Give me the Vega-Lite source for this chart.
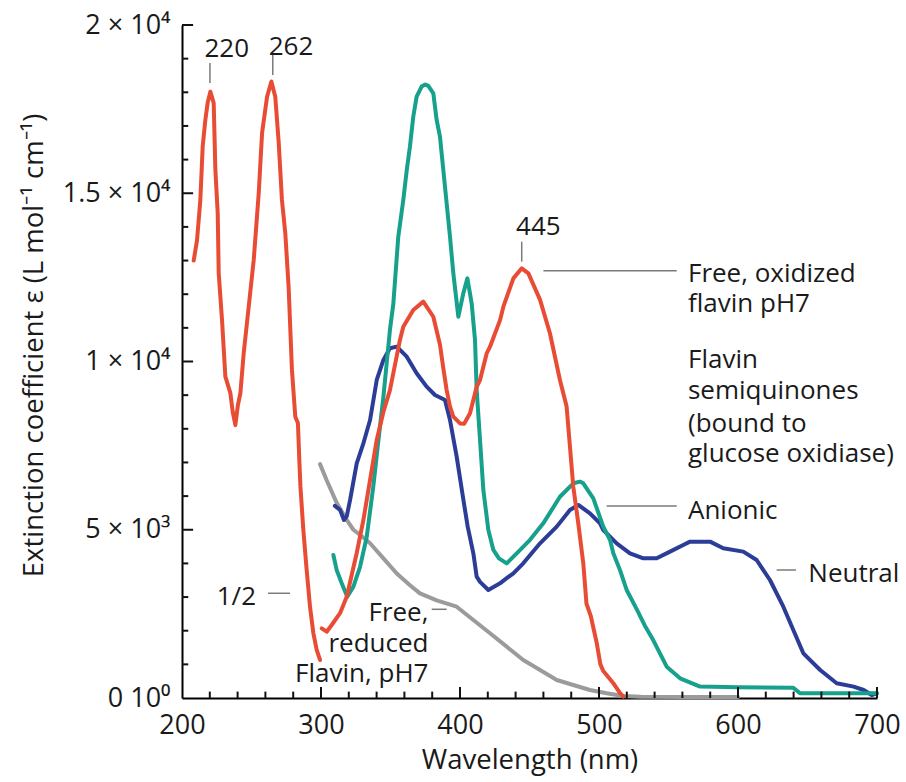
{
  "$schema": "https://vega.github.io/schema/vega-lite/v6.json",
  "width": 695,
  "height": 673,
  "autosize": {"type": "none"},
  "padding": {"left": 182, "top": 25, "right": 29, "bottom": 84},
  "background": "white",
  "config": {
    "view": {"stroke": null},
    "font": "Open Sans",
    "text": {"font": "Open Sans"}
  },
  "datasets": {
    "curves": [
      {"series":"reduced","segment":"g","nm":299.3,"value":6950},{"series":"reduced","segment":"g","nm":304,"value":6480},{"series":"reduced","segment":"g","nm":311.3,"value":5800},{"series":"reduced","segment":"g","nm":318.5,"value":5290},{"series":"reduced","segment":"g","nm":323.3,"value":5000},{"series":"reduced","segment":"g","nm":328.1,"value":4850},{"series":"reduced","segment":"g","nm":335.3,"value":4600},{"series":"reduced","segment":"g","nm":344.9,"value":4150},{"series":"reduced","segment":"g","nm":354.5,"value":3700},{"series":"reduced","segment":"g","nm":364,"value":3350},{"series":"reduced","segment":"g","nm":371.2,"value":3110},{"series":"reduced","segment":"g","nm":383.2,"value":2900},{"series":"reduced","segment":"g","nm":397.6,"value":2713},{"series":"reduced","segment":"g","nm":409.6,"value":2318},{"series":"reduced","segment":"g","nm":421.6,"value":1923},{"series":"reduced","segment":"g","nm":433.6,"value":1525},{"series":"reduced","segment":"g","nm":445.5,"value":1129},{"series":"reduced","segment":"g","nm":457.6,"value":832},{"series":"reduced","segment":"g","nm":469.6,"value":535},{"series":"reduced","segment":"g","nm":481.5,"value":386},{"series":"reduced","segment":"g","nm":493.5,"value":238},{"series":"reduced","segment":"g","nm":505.5,"value":139},{"series":"reduced","segment":"g","nm":517.5,"value":59},{"series":"reduced","segment":"g","nm":530,"value":40},{"series":"reduced","segment":"g","nm":560,"value":30},{"series":"reduced","segment":"g","nm":600,"value":30},
      {"series":"neutral","segment":"b","nm":310,"value":5710},{"series":"neutral","segment":"b","nm":313.7,"value":5590},{"series":"neutral","segment":"b","nm":316.5,"value":5290},{"series":"neutral","segment":"b","nm":318.5,"value":5400},{"series":"neutral","segment":"b","nm":320.9,"value":5880},{"series":"neutral","segment":"b","nm":325.7,"value":6975},{"series":"neutral","segment":"b","nm":328.1,"value":7270},{"series":"neutral","segment":"b","nm":330.5,"value":7570},{"series":"neutral","segment":"b","nm":335.3,"value":8262},{"series":"neutral","segment":"b","nm":340.1,"value":9451},{"series":"neutral","segment":"b","nm":344.9,"value":10045},{"series":"neutral","segment":"b","nm":349.6,"value":10393},{"series":"neutral","segment":"b","nm":354.5,"value":10441},{"series":"neutral","segment":"b","nm":361.7,"value":10144},{"series":"neutral","segment":"b","nm":368.8,"value":9650},{"series":"neutral","segment":"b","nm":376,"value":9252},{"series":"neutral","segment":"b","nm":382,"value":9005},{"series":"neutral","segment":"b","nm":389.2,"value":8857},{"series":"neutral","segment":"b","nm":392.8,"value":8262},{"series":"neutral","segment":"b","nm":397.6,"value":7172},{"series":"neutral","segment":"b","nm":402.4,"value":5900},{"series":"neutral","segment":"b","nm":405.5,"value":5100},{"series":"neutral","segment":"b","nm":409.6,"value":4300},{"series":"neutral","segment":"b","nm":412,"value":3605},{"series":"neutral","segment":"b","nm":414.4,"value":3450},{"series":"neutral","segment":"b","nm":420.4,"value":3210},{"series":"neutral","segment":"b","nm":428.8,"value":3408},{"series":"neutral","segment":"b","nm":433.6,"value":3560},{"series":"neutral","segment":"b","nm":438.4,"value":3705},{"series":"neutral","segment":"b","nm":445.5,"value":4003},{"series":"neutral","segment":"b","nm":457.6,"value":4597},{"series":"neutral","segment":"b","nm":469.6,"value":5093},{"series":"neutral","segment":"b","nm":479.1,"value":5587},{"series":"neutral","segment":"b","nm":485.1,"value":5736},{"series":"neutral","segment":"b","nm":493.5,"value":5489},{"series":"neutral","segment":"b","nm":500.7,"value":5192},{"series":"neutral","segment":"b","nm":503.1,"value":4993},{"series":"neutral","segment":"b","nm":512.7,"value":4597},{"series":"neutral","segment":"b","nm":522.3,"value":4300},{"series":"neutral","segment":"b","nm":531.9,"value":4151},{"series":"neutral","segment":"b","nm":541.5,"value":4151},{"series":"neutral","segment":"b","nm":551.1,"value":4350},{"series":"neutral","segment":"b","nm":560.6,"value":4547},{"series":"neutral","segment":"b","nm":565.5,"value":4646},{"series":"neutral","segment":"b","nm":579.9,"value":4646},{"series":"neutral","segment":"b","nm":589.4,"value":4449},{"series":"neutral","segment":"b","nm":603.8,"value":4350},{"series":"neutral","segment":"b","nm":613.4,"value":4101},{"series":"neutral","segment":"b","nm":623,"value":3507},{"series":"neutral","segment":"b","nm":632.6,"value":2713},{"series":"neutral","segment":"b","nm":639.8,"value":2021},{"series":"neutral","segment":"b","nm":647,"value":1328},{"series":"neutral","segment":"b","nm":659.1,"value":832},{"series":"neutral","segment":"b","nm":671,"value":437},{"series":"neutral","segment":"b","nm":683.2,"value":337},{"series":"neutral","segment":"b","nm":690.4,"value":238},{"series":"neutral","segment":"b","nm":696.2,"value":89},{"series":"neutral","segment":"b","nm":699.8,"value":139},
      {"series":"anionic","segment":"t","nm":308.9,"value":4250},{"series":"anionic","segment":"t","nm":311.3,"value":3800},{"series":"anionic","segment":"t","nm":314.9,"value":3410},{"series":"anionic","segment":"t","nm":318.9,"value":3010},{"series":"anionic","segment":"t","nm":323.3,"value":3310},{"series":"anionic","segment":"t","nm":328.1,"value":3900},{"series":"anionic","segment":"t","nm":332.9,"value":4790},{"series":"anionic","segment":"t","nm":337.6,"value":6280},{"series":"anionic","segment":"t","nm":341,"value":7550},{"series":"anionic","segment":"t","nm":344.9,"value":8950},{"series":"anionic","segment":"t","nm":349.6,"value":10940},{"series":"anionic","segment":"t","nm":352,"value":11700},{"series":"anionic","segment":"t","nm":355.6,"value":13710},{"series":"anionic","segment":"t","nm":359.2,"value":14800},{"series":"anionic","segment":"t","nm":361.7,"value":15690},{"series":"anionic","segment":"t","nm":364,"value":16390},{"series":"anionic","segment":"t","nm":366.4,"value":17280},{"series":"anionic","segment":"t","nm":368.8,"value":17870},{"series":"anionic","segment":"t","nm":372.4,"value":18170},{"series":"anionic","segment":"t","nm":375,"value":18230},{"series":"anionic","segment":"t","nm":377.2,"value":18190},{"series":"anionic","segment":"t","nm":380.8,"value":17970},{"series":"anionic","segment":"t","nm":383.2,"value":17180},{"series":"anionic","segment":"t","nm":385.6,"value":16680},{"series":"anionic","segment":"t","nm":388,"value":15690},{"series":"anionic","segment":"t","nm":390.4,"value":14700},{"series":"anionic","segment":"t","nm":392.8,"value":13710},{"series":"anionic","segment":"t","nm":395.2,"value":12620},{"series":"anionic","segment":"t","nm":398.8,"value":11330},{"series":"anionic","segment":"t","nm":402.4,"value":12030},{"series":"anionic","segment":"t","nm":405.3,"value":12470},{"series":"anionic","segment":"t","nm":408.4,"value":11730},{"series":"anionic","segment":"t","nm":410.8,"value":10640},{"series":"anionic","segment":"t","nm":412,"value":9150},{"series":"anionic","segment":"t","nm":414.4,"value":7670},{"series":"anionic","segment":"t","nm":416.8,"value":6180},{"series":"anionic","segment":"t","nm":420.4,"value":4990},{"series":"anionic","segment":"t","nm":424,"value":4400},{"series":"anionic","segment":"t","nm":428,"value":4150},{"series":"anionic","segment":"t","nm":433.6,"value":4000},{"series":"anionic","segment":"t","nm":440.8,"value":4300},{"series":"anionic","segment":"t","nm":450.4,"value":4700},{"series":"anionic","segment":"t","nm":459.9,"value":5190},{"series":"anionic","segment":"t","nm":471.9,"value":5980},{"series":"anionic","segment":"t","nm":481.5,"value":6380},{"series":"anionic","segment":"t","nm":486.3,"value":6430},{"series":"anionic","segment":"t","nm":488.7,"value":6380},{"series":"anionic","segment":"t","nm":495.9,"value":5930},{"series":"anionic","segment":"t","nm":503.1,"value":5090},{"series":"anionic","segment":"t","nm":507.9,"value":4700},{"series":"anionic","segment":"t","nm":510.3,"value":4300},{"series":"anionic","segment":"t","nm":515.1,"value":3800},{"series":"anionic","segment":"t","nm":519.9,"value":3210},{"series":"anionic","segment":"t","nm":527,"value":2650},{"series":"anionic","segment":"t","nm":533,"value":2150},{"series":"anionic","segment":"t","nm":539,"value":1720},{"series":"anionic","segment":"t","nm":548.7,"value":930},{"series":"anionic","segment":"t","nm":558.3,"value":585},{"series":"anionic","segment":"t","nm":572.7,"value":340},{"series":"anionic","segment":"t","nm":600,"value":320},{"series":"anionic","segment":"t","nm":639.8,"value":307},{"series":"anionic","segment":"t","nm":644.6,"value":140},{"series":"anionic","segment":"t","nm":697,"value":140},{"series":"anionic","segment":"t","nm":700,"value":140},
      {"series":"oxidized","segment":"r1","nm":208.4,"value":13000},{"series":"oxidized","segment":"r1","nm":210.8,"value":13600},{"series":"oxidized","segment":"r1","nm":213.2,"value":14800},{"series":"oxidized","segment":"r1","nm":214.9,"value":16400},{"series":"oxidized","segment":"r1","nm":216.8,"value":17180},{"series":"oxidized","segment":"r1","nm":218.5,"value":17700},{"series":"oxidized","segment":"r1","nm":220.4,"value":18020},{"series":"oxidized","segment":"r1","nm":222.8,"value":17680},{"series":"oxidized","segment":"r1","nm":224,"value":15700},{"series":"oxidized","segment":"r1","nm":225.7,"value":14400},{"series":"oxidized","segment":"r1","nm":226.4,"value":12630},{"series":"oxidized","segment":"r1","nm":228.8,"value":11230},{"series":"oxidized","segment":"r1","nm":231.2,"value":9550},{"series":"oxidized","segment":"r1","nm":234.8,"value":9060},{"series":"oxidized","segment":"r1","nm":236.5,"value":8500},{"series":"oxidized","segment":"r1","nm":238.4,"value":8110},{"series":"oxidized","segment":"r1","nm":240.2,"value":8700},{"series":"oxidized","segment":"r1","nm":242,"value":9060},{"series":"oxidized","segment":"r1","nm":244.4,"value":10250},{"series":"oxidized","segment":"r1","nm":248,"value":11630},{"series":"oxidized","segment":"r1","nm":251.6,"value":13020},{"series":"oxidized","segment":"r1","nm":255.2,"value":15000},{"series":"oxidized","segment":"r1","nm":257.6,"value":16790},{"series":"oxidized","segment":"r1","nm":261.2,"value":17870},{"series":"oxidized","segment":"r1","nm":264.3,"value":18320},{"series":"oxidized","segment":"r1","nm":267.1,"value":17870},{"series":"oxidized","segment":"r1","nm":269.6,"value":16490},{"series":"oxidized","segment":"r1","nm":271.9,"value":14800},{"series":"oxidized","segment":"r1","nm":274.3,"value":13820},{"series":"oxidized","segment":"r1","nm":276.7,"value":12220},{"series":"oxidized","segment":"r1","nm":279.1,"value":9750},{"series":"oxidized","segment":"r1","nm":281.5,"value":8360},{"series":"oxidized","segment":"r1","nm":283.4,"value":8170},{"series":"oxidized","segment":"r1","nm":284.4,"value":7070},{"series":"oxidized","segment":"r1","nm":285.2,"value":6280},{"series":"oxidized","segment":"r1","nm":287.3,"value":4990},{"series":"oxidized","segment":"r1","nm":289.7,"value":3800},{"series":"oxidized","segment":"r1","nm":292.1,"value":2710},{"series":"oxidized","segment":"r1","nm":294.5,"value":1930},{"series":"oxidized","segment":"r1","nm":296.9,"value":1430},{"series":"oxidized","segment":"r1","nm":299.3,"value":1130},
      {"series":"oxidized","segment":"r2","nm":300.5,"value":2070},{"series":"oxidized","segment":"r2","nm":304.1,"value":1970},{"series":"oxidized","segment":"r2","nm":307.7,"value":2170},{"series":"oxidized","segment":"r2","nm":313.7,"value":2520},{"series":"oxidized","segment":"r2","nm":318.5,"value":3010},{"series":"oxidized","segment":"r2","nm":325.7,"value":4310},{"series":"oxidized","segment":"r2","nm":330.5,"value":5290},{"series":"oxidized","segment":"r2","nm":335.3,"value":6480},{"series":"oxidized","segment":"r2","nm":340.1,"value":7670},{"series":"oxidized","segment":"r2","nm":344.9,"value":8500},{"series":"oxidized","segment":"r2","nm":349.6,"value":9150},{"series":"oxidized","segment":"r2","nm":356.8,"value":10640},{"series":"oxidized","segment":"r2","nm":359.2,"value":11035},{"series":"oxidized","segment":"r2","nm":366.4,"value":11530},{"series":"oxidized","segment":"r2","nm":373.6,"value":11780},{"series":"oxidized","segment":"r2","nm":380.8,"value":11330},{"series":"oxidized","segment":"r2","nm":385.6,"value":10500},{"series":"oxidized","segment":"r2","nm":388,"value":9800},{"series":"oxidized","segment":"r2","nm":390.4,"value":9150},{"series":"oxidized","segment":"r2","nm":392.8,"value":8660},{"series":"oxidized","segment":"r2","nm":395.2,"value":8360},{"series":"oxidized","segment":"r2","nm":400,"value":8160},{"series":"oxidized","segment":"r2","nm":403,"value":8150},{"series":"oxidized","segment":"r2","nm":407.2,"value":8460},{"series":"oxidized","segment":"r2","nm":412,"value":9250},{"series":"oxidized","segment":"r2","nm":414.4,"value":9450},{"series":"oxidized","segment":"r2","nm":419.2,"value":10240},{"series":"oxidized","segment":"r2","nm":421.6,"value":10440},{"series":"oxidized","segment":"r2","nm":428.8,"value":11230},{"series":"oxidized","segment":"r2","nm":431.2,"value":11630},{"series":"oxidized","segment":"r2","nm":438.4,"value":12470},{"series":"oxidized","segment":"r2","nm":444.4,"value":12770},{"series":"oxidized","segment":"r2","nm":449.2,"value":12620},{"series":"oxidized","segment":"r2","nm":457.6,"value":11830},{"series":"oxidized","segment":"r2","nm":464.7,"value":10840},{"series":"oxidized","segment":"r2","nm":471.9,"value":9450},{"series":"oxidized","segment":"r2","nm":476.7,"value":8660},{"series":"oxidized","segment":"r2","nm":479.1,"value":7470},{"series":"oxidized","segment":"r2","nm":481.5,"value":6280},{"series":"oxidized","segment":"r2","nm":485.1,"value":5190},{"series":"oxidized","segment":"r2","nm":488.7,"value":4000},{"series":"oxidized","segment":"r2","nm":491,"value":2800},{"series":"oxidized","segment":"r2","nm":494,"value":2450},{"series":"oxidized","segment":"r2","nm":498.3,"value":1650},{"series":"oxidized","segment":"r2","nm":501,"value":1000},{"series":"oxidized","segment":"r2","nm":503.1,"value":800},{"series":"oxidized","segment":"r2","nm":510.3,"value":440},{"series":"oxidized","segment":"r2","nm":515,"value":150},{"series":"oxidized","segment":"r2","nm":517.5,"value":40}
    ],
    "leaders": [
      {"nm":220.1,"value":18873,"nm2":220.1,"value2":18278},
      {"nm":265.3,"value":19110,"nm2":265.3,"value2":18515},
      {"nm":444.4,"value":13561,"nm2":444.4,"value2":12967},
      {"nm":460,"value":12700,"nm2":555.9,"value2":12700},
      {"nm":505.5,"value":5706,"nm2":555.9,"value2":5706},
      {"nm":627.8,"value":3804,"nm2":641.7,"value2":3804},
      {"nm":261.9,"value":3112,"nm2":277.7,"value2":3112},
      {"nm":379.6,"value":2636,"nm2":390.4,"value2":2636}
    ],
    "labels": [
      {"pos":"center","nm":232.2,"value":19051,"text":"220"},
      {"pos":"center","nm":278.4,"value":19110,"text":"262"},
      {"pos":"center","nm":456.4,"value":13760,"text":"445"},
      {"pos":"left","nm":564,"value":12373,"text":"Free, oxidized"},
      {"pos":"left","nm":564,"value":11481,"text":"flavin pH7"},
      {"pos":"left","nm":564,"value":9799,"text":"Flavin"},
      {"pos":"left","nm":564,"value":8877,"text":"semiquinones"},
      {"pos":"left","nm":564,"value":7914,"text":"(bound to"},
      {"pos":"left","nm":564,"value":7023,"text":"glucose oxidiase)"},
      {"pos":"left","nm":564,"value":5332,"text":"Anionic"},
      {"pos":"left","nm":650.6,"value":3457,"text":"Neutral"},
      {"pos":"left","nm":225,"value":2764,"text":"1/2"},
      {"pos":"right","nm":377.3,"value":2297,"text":"Free,"},
      {"pos":"right","nm":377.3,"value":1376,"text":"reduced"},
      {"pos":"right","nm":377.3,"value":484,"text":"Flavin, pH7"}
    ],
    "xticks": [
      {"nm":220,"kind":"minor"},{"nm":240,"kind":"minor"},{"nm":260,"kind":"minor"},{"nm":280,"kind":"minor"},
      {"nm":300,"kind":"major"},{"nm":320,"kind":"minor"},{"nm":340,"kind":"minor"},{"nm":360,"kind":"minor"},{"nm":380,"kind":"minor"},
      {"nm":400,"kind":"major"},{"nm":420,"kind":"minor"},{"nm":440,"kind":"minor"},{"nm":460,"kind":"minor"},{"nm":480,"kind":"minor"},
      {"nm":500,"kind":"major"},{"nm":520,"kind":"minor"},{"nm":540,"kind":"minor"},{"nm":560,"kind":"minor"},{"nm":580,"kind":"minor"},
      {"nm":600,"kind":"major"},{"nm":620,"kind":"minor"},{"nm":640,"kind":"minor"},{"nm":660,"kind":"minor"},{"nm":680,"kind":"minor"},
      {"nm":700,"kind":"major"}
    ],
    "yticks": [
      {"value":1000,"kind":"minor"},{"value":2000,"kind":"minor"},{"value":3000,"kind":"minor"},{"value":4000,"kind":"minor"},
      {"value":5000,"kind":"major"},{"value":6000,"kind":"minor"},{"value":7000,"kind":"minor"},{"value":8000,"kind":"minor"},{"value":9000,"kind":"minor"},
      {"value":10000,"kind":"major"},{"value":11000,"kind":"minor"},{"value":12000,"kind":"minor"},{"value":13000,"kind":"minor"},{"value":14000,"kind":"minor"},
      {"value":15000,"kind":"major"},{"value":16000,"kind":"minor"},{"value":17000,"kind":"minor"},{"value":18000,"kind":"minor"},{"value":19000,"kind":"minor"},
      {"value":20000,"kind":"major"}
    ]
  },
  "layer": [
    {
      "data": {"name": "curves"},
      "mark": {"type": "line", "strokeWidth": 4, "strokeJoin": "round", "strokeCap": "round"},
      "encoding": {
        "x": {
          "field": "nm", "type": "quantitative",
          "scale": {"domain": [200, 700], "nice": false, "zero": false},
          "axis": {
            "orient": "bottom",
            "title": "Wavelength (nm)",
            "values": [200, 300, 400, 500, 600, 700],
            "format": "d",
            "grid": false, "ticks": false,
            "domainColor": "#000000", "domainWidth": 2,
            "labelFontSize": 27, "labelColor": "#1a1a1a", "labelFont": "Open Sans",
            "labelBaseline": "alphabetic", "labelPadding": 35,
            "labelOverlap": false, "labelFlush": false,
            "titleFontSize": 27.5, "titleFontWeight": "normal", "titleColor": "#1a1a1a", "titleFont": "Open Sans",
            "titleBaseline": "alphabetic", "titleY": 70
          }
        },
        "y": {
          "field": "value", "type": "quantitative",
          "scale": {"domain": [0, 20000], "nice": false},
          "axis": {
            "orient": "left",
            "title": "Extinction coefficient ε (L mol⁻¹ cm⁻¹)",
            "values": [0, 5000, 10000, 15000, 20000],
            "labelExpr": "datum.value == 20000 ? '2 × 10⁴' : datum.value == 15000 ? '1.5 × 10⁴' : datum.value == 10000 ? '1 × 10⁴' : datum.value == 5000 ? '5 × 10³' : '0 10⁰'",
            "grid": false, "ticks": false,
            "domainColor": "#000000", "domainWidth": 2,
            "labelFontSize": 27, "labelColor": "#1a1a1a", "labelFont": "Open Sans",
            "labelPadding": 12, "labelOverlap": false, "labelFlush": false,
            "titleFontSize": 27.5, "titleFontWeight": "normal", "titleColor": "#1a1a1a", "titleFont": "Open Sans",
            "titleBaseline": "alphabetic", "titleX": -140, "titleY": 320, "titleAngle": -90
          }
        },
        "color": {
          "field": "series", "type": "nominal",
          "scale": {"domain": ["reduced", "neutral", "anionic", "oxidized"], "range": ["#9b9b9b", "#2b3d97", "#17a08b", "#e84c35"]},
          "legend": null
        },
        "detail": {"field": "segment", "type": "nominal"}
      }
    },
    {
      "data": {"name": "xticks"},
      "transform": [{"filter": "datum.kind === 'minor'"}],
      "mark": {"type": "rule", "strokeWidth": 2, "color": "#111111"},
      "encoding": {
        "x": {"field": "nm", "type": "quantitative"},
        "y": {"datum": 0, "type": "quantitative"},
        "y2": {"datum": 190}
      }
    },
    {
      "data": {"name": "xticks"},
      "transform": [{"filter": "datum.kind === 'major'"}],
      "mark": {"type": "rule", "strokeWidth": 2, "color": "#111111"},
      "encoding": {
        "x": {"field": "nm", "type": "quantitative"},
        "y": {"datum": 0, "type": "quantitative"},
        "y2": {"datum": 330}
      }
    },
    {
      "data": {"name": "yticks"},
      "transform": [{"filter": "datum.kind === 'minor'"}],
      "mark": {"type": "rule", "strokeWidth": 2, "color": "#111111"},
      "encoding": {
        "x": {"datum": 200, "type": "quantitative"},
        "x2": {"datum": 204.5},
        "y": {"field": "value", "type": "quantitative"}
      }
    },
    {
      "data": {"name": "yticks"},
      "transform": [{"filter": "datum.kind === 'major'"}],
      "mark": {"type": "rule", "strokeWidth": 2, "color": "#111111"},
      "encoding": {
        "x": {"datum": 200, "type": "quantitative"},
        "x2": {"datum": 208},
        "y": {"field": "value", "type": "quantitative"}
      }
    },
    {
      "data": {"name": "leaders"},
      "mark": {"type": "rule", "color": "#7a7a7a", "strokeWidth": 1.5},
      "encoding": {
        "x": {"field": "nm", "type": "quantitative"},
        "y": {"field": "value", "type": "quantitative"},
        "x2": {"field": "nm2"},
        "y2": {"field": "value2"}
      }
    },
    {
      "data": {"name": "labels"},
      "transform": [{"filter": "datum.pos === 'center'"}],
      "mark": {"type": "text", "align": "center", "baseline": "alphabetic", "fontSize": 26, "color": "#1a1a1a", "font": "Open Sans"},
      "encoding": {
        "x": {"field": "nm", "type": "quantitative"},
        "y": {"field": "value", "type": "quantitative"},
        "text": {"field": "text"}
      }
    },
    {
      "data": {"name": "labels"},
      "transform": [{"filter": "datum.pos === 'left'"}],
      "mark": {"type": "text", "align": "left", "baseline": "alphabetic", "fontSize": 26, "color": "#1a1a1a", "font": "Open Sans"},
      "encoding": {
        "x": {"field": "nm", "type": "quantitative"},
        "y": {"field": "value", "type": "quantitative"},
        "text": {"field": "text"}
      }
    },
    {
      "data": {"name": "labels"},
      "transform": [{"filter": "datum.pos === 'right'"}],
      "mark": {"type": "text", "align": "right", "baseline": "alphabetic", "fontSize": 26, "color": "#1a1a1a", "font": "Open Sans"},
      "encoding": {
        "x": {"field": "nm", "type": "quantitative"},
        "y": {"field": "value", "type": "quantitative"},
        "text": {"field": "text"}
      }
    }
  ]
}
